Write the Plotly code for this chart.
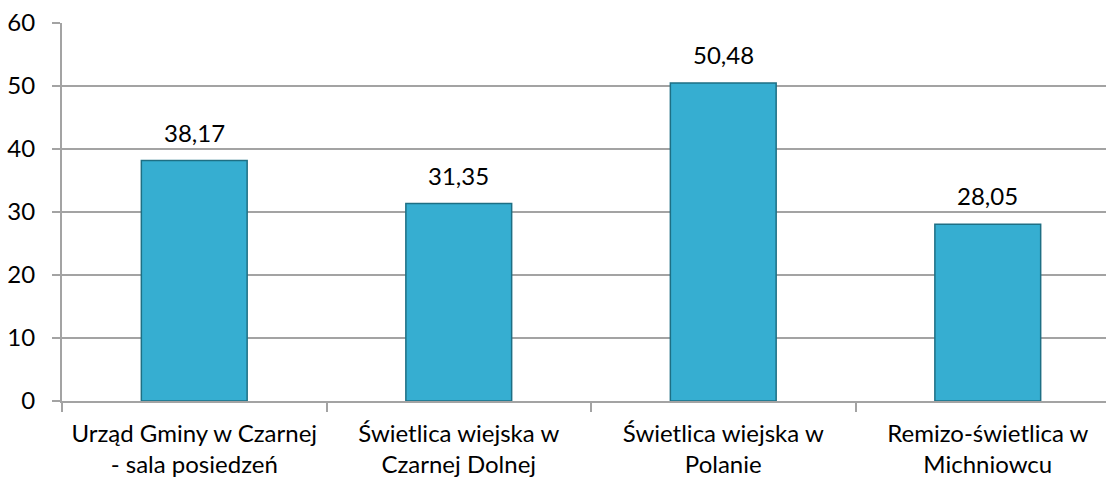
import plotly.graph_objects as go

kategorie = ["Urząd Gminy w Czarnej<br>- sala posiedzeń",
             "Świetlica wiejska w<br>Czarnej Dolnej",
             "Świetlica wiejska w<br>Polanie",
             "Remizo-świetlica w<br>Michniowcu"]
wartosci = [38.17, 31.35, 50.48, 28.05]
y_ticks = [0, 10, 20, 30, 40, 50, 60]

FONT = "Lato"
SIATKA = "#a3a3a3"

fig = go.Figure()
fig.add_trace(go.Bar(
    x=kategorie, y=wartosci, width=0.4,
    marker=dict(color="#36AED1", line=dict(color="#1E6F84", width=1.5)),
))

# etykiety wartości nad słupkami
for k, v in zip(kategorie, wartosci):
    fig.add_annotation(x=k, y=v, text=f"{v:.2f}".replace(".", ","),
                       showarrow=False, yanchor="bottom", yshift=12,
                       font=dict(family=FONT, size=24, color="#000000"))

fig.update_layout(
    width=1106, height=477,
    margin=dict(l=62, r=0, t=23, b=76, autoexpand=False),
    paper_bgcolor="white", plot_bgcolor="white",
    showlegend=False,
    font=dict(family=FONT, size=24, color="#000000"),
)
fig.update_xaxes(
    range=[-0.5, 3.447], automargin=False,
    showline=True, linecolor=SIATKA, linewidth=2,
    ticks="outside", tickson="boundaries", ticklen=9, tickwidth=2, tickcolor=SIATKA,
    ticklabelstandoff=10,
    showgrid=False, tickfont=dict(family=FONT, size=24),
)
fig.update_yaxes(
    range=[0, 60], tickvals=y_ticks, automargin=False,
    showline=True, linecolor=SIATKA, linewidth=2,
    ticks="outside", ticklen=8, tickwidth=2, tickcolor=SIATKA,
    ticklabelstandoff=12,
    showgrid=True, gridcolor=SIATKA, gridwidth=2, zeroline=False,
    tickfont=dict(family=FONT, size=24),
)

# bez domyślnego marginesu strony
fig.write_html("out.html", config={"displayModeBar": False},
               post_script="document.body.style.margin='0';")
